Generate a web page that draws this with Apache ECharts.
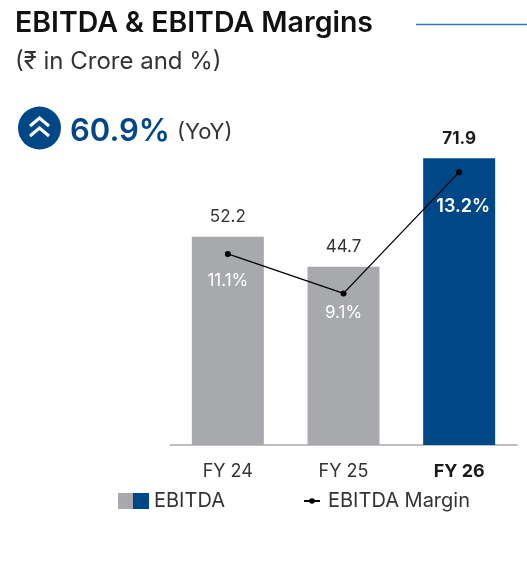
<!DOCTYPE html>
<html>
<head>
<meta charset="utf-8">
<style>
  html, body { margin: 0; padding: 0; background: #fff; }
  #chart { width: 527px; height: 583px; }
</style>
<script src="https://cdn.jsdelivr.net/npm/echarts@6/dist/echarts.min.js"></script>
</head>
<body>
<div id="chart"></div>
<script>
const categories = ['FY 24', 'FY 25', 'FY 26']
const ebitdaValues = [52.2, 44.7, 71.9]
const marginLabels = ['11.1%', '9.1%', '13.2%']
// the line in the picture is not to scale with its labels, so these are its heights as drawn
const marginHeights = [47.9, 38, 68.4]

const FONT = 'Inter, "Noto Sans", sans-serif'
const BLUE = '#004787'
const GREY = '#a7a9ac'
const lastIndex = categories.length - 1

const chart = echarts.init(document.getElementById('chart'))

chart.setOption({
  animation: false,
  textStyle: { fontFamily: FONT },
  grid: { left: 170, right: 10, top: 86, bottom: 138 },
  xAxis: {
    type: 'category',
    data: categories.map((name, i) => ({
      value: name,
      textStyle: i === lastIndex ? { fontWeight: 700, color: '#1a1a1a' } : {}
    })),
    axisTick: { show: false },
    axisLine: { lineStyle: { color: GREY, width: 1.5 } },
    axisLabel: { color: '#333', fontSize: 18, fontFamily: FONT, margin: 18 }
  },
  yAxis: [
    { type: 'value', min: 0, max: 90, show: false },
    { type: 'value', min: 0, max: 90, show: false }
  ],
  legend: [
    {
      data: [{ name: 'EBITDA', icon: 'rect' }],
      left: 118,
      top: 491,
      padding: 0,
      itemWidth: 31,
      itemHeight: 16,
      itemStyle: { color: GREY },
      textStyle: { color: '#333', fontSize: 20, fontFamily: FONT },
      selectedMode: false
    },
    {
      data: ['EBITDA Margin'],
      left: 303,
      top: 491,
      padding: 0,
      itemWidth: 16,
      itemHeight: 7,
      textStyle: { color: '#333', fontSize: 20, fontFamily: FONT, padding: [0, 0, 0, 3] },
      selectedMode: false
    }
  ],
  series: [
    {
      name: 'EBITDA',
      type: 'bar',
      barWidth: 72,
      data: ebitdaValues.map((value, i) => ({
        value,
        itemStyle: { color: i === lastIndex ? BLUE : GREY },
        label: i === lastIndex ? { fontWeight: 700, color: '#1a1a1a' } : {}
      })),
      label: {
        show: true,
        position: 'top',
        distance: 11,
        color: '#333',
        fontSize: 17,
        fontFamily: FONT
      }
    },
    {
      name: 'EBITDA Margin',
      type: 'line',
      yAxisIndex: 1,
      z: 5,
      data: marginHeights.map((value, i) => ({
        value,
        label: i === lastIndex ? { fontWeight: 600, fontSize: 18 } : {}
      })),
      symbol: 'circle',
      symbolSize: 6,
      itemStyle: { color: '#000' },
      lineStyle: { color: '#000', width: 1.3 },
      label: {
        show: true,
        position: 'bottom',
        fontSize: 17,
        fontFamily: FONT,
        color: '#fff',
        formatter: (p) => marginLabels[p.dataIndex]
      },
      labelLayout: (p) => ({
        dx: [0, 0, 4][p.dataIndex],
        dy: [10, 3, 17][p.dataIndex]
      })
    }
  ],
  graphic: [
    { type: 'text', left: 15, top: 9, style: { text: 'EBITDA & EBITDA Margins', fill: '#111', font: '600 28.5px ' + FONT } },
    { type: 'line', shape: { x1: 416, y1: 24.5, x2: 527, y2: 24.5 }, style: { stroke: '#3f75ae', lineWidth: 1.5 } },
    { type: 'text', left: 15, top: 50, style: { text: '(₹ in Crore and %)', fill: '#333', font: '400 24px ' + FONT } },
    { type: 'circle', shape: { cx: 39.5, cy: 128, r: 21.5 }, style: { fill: BLUE } },
    { type: 'polyline', shape: { points: [[30, 126], [39.5, 118], [49, 126]] }, style: { stroke: '#fff', lineWidth: 3, fill: null } },
    { type: 'polyline', shape: { points: [[30, 136], [39.5, 128], [49, 136]] }, style: { stroke: '#fff', lineWidth: 3, fill: null } },
    { type: 'text', left: 70, top: 116, style: { text: '60.9%', fill: BLUE, font: '600 31px ' + FONT } },
    { type: 'text', left: 177, top: 121, style: { text: '(YoY)', fill: '#333', font: '400 22px ' + FONT } },
    { type: 'rect', shape: { x: 133, y: 493, width: 16, height: 16 }, style: { fill: BLUE }, z: 10 }
  ]
})
</script>
</body>
</html>
